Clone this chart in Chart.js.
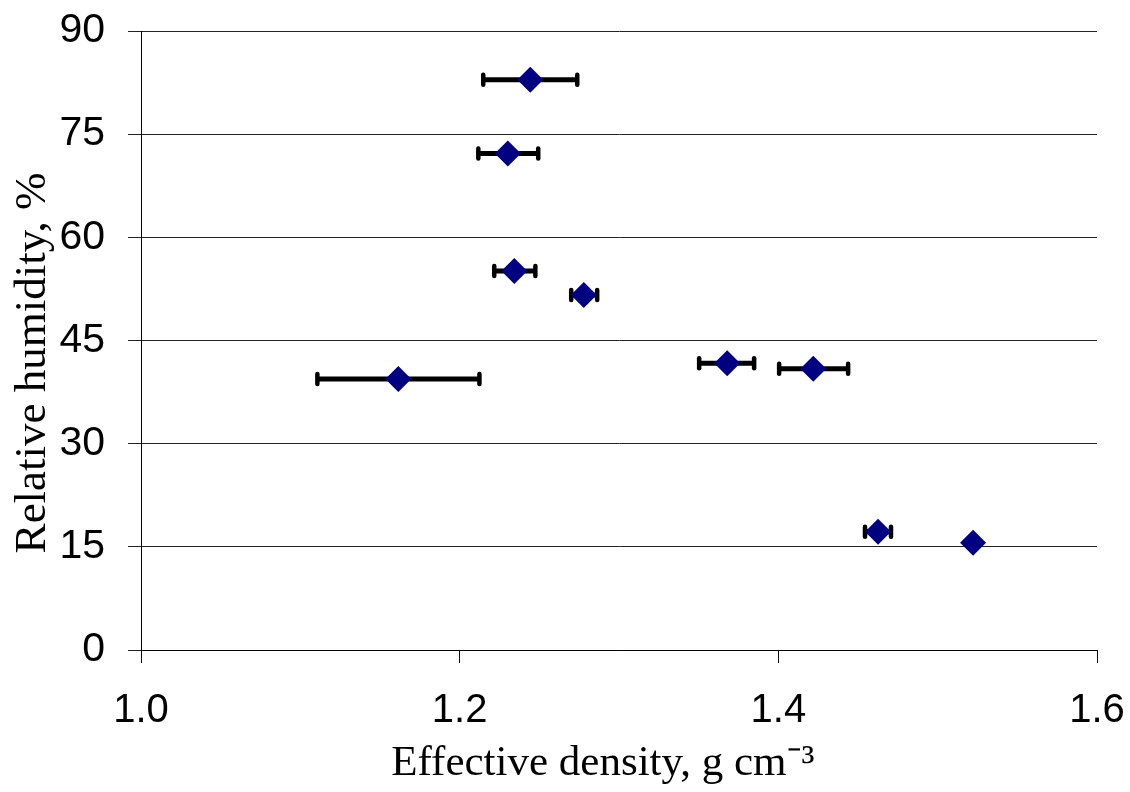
<!DOCTYPE html>
<html>
<head>
<meta charset="utf-8">
<script src="https://cdn.jsdelivr.net/npm/chart.js@4/dist/chart.umd.min.js"></script>
<style>
  html, body { margin: 0; padding: 0; background: #fff; }
  #wrap { width: 1130px; height: 792px; }
</style>
</head>
<body>
<div id="wrap"><canvas id="chart" width="1130" height="792"></canvas></div>
<script>
// Effective density (g cm-3) vs relative humidity (%)
const density = [1.2443, 1.2302, 1.2343, 1.2779, 1.1615, 1.3679, 1.4219, 1.4626, 1.5222];
const humidity = [82.9, 72.2, 55.1, 51.6, 39.4, 41.7, 40.9, 17.2, 15.6];
// horizontal error bar ends
const densityLow = [1.2148, 1.2117, 1.2217, 1.2700, 1.1107, 1.3503, 1.4005, 1.4544, 1.5222];
const densityHigh = [1.2738, 1.2493, 1.2475, 1.2863, 1.2124, 1.3848, 1.4438, 1.4707, 1.5222];

const xTicks = [1.0, 1.2, 1.4, 1.6];
const yTicks = [0, 15, 30, 45, 60, 75, 90];

const points = density.map((x, i) => ({ x: x, y: humidity[i] }));

// draws the x error bars under the markers
const errorBars = {
    id: 'errorBars',
    beforeDatasetsDraw(chart) {
        const ctx = chart.ctx;
        const xs = chart.scales.x;
        const ys = chart.scales.y;
        ctx.save();
        ctx.strokeStyle = '#000';
        for (let i = 0; i < density.length; i++) {
            if (densityHigh[i] - densityLow[i] <= 0) continue;
            const x0 = xs.getPixelForValue(densityLow[i]);
            const x1 = xs.getPixelForValue(densityHigh[i]);
            const y = ys.getPixelForValue(humidity[i]);
            ctx.lineWidth = 5;
            ctx.lineCap = 'butt';
            ctx.beginPath();
            ctx.moveTo(x0, y);
            ctx.lineTo(x1, y);
            ctx.stroke();
            ctx.lineCap = 'round';
            ctx.lineWidth = 4.5;
            [x0, x1].forEach(xp => {
                ctx.beginPath();
                ctx.moveTo(xp, y - 5);
                ctx.lineTo(xp, y + 5);
                ctx.stroke();
            });
        }
        ctx.restore();
    }
};

// let the layout padding alone place the plot area
function noLabelPadding(axis) {
    axis.paddingTop = 0;
    axis.paddingBottom = 0;
    axis.paddingLeft = 0;
    axis.paddingRight = 0;
}

new Chart(document.getElementById('chart'), {
    type: 'scatter',
    data: {
        datasets: [{
            data: points,
            pointStyle: 'rectRot',
            pointRadius: 13,
            pointHoverRadius: 13,
            backgroundColor: '#000080',
            borderColor: '#000080',
            borderWidth: 0
        }]
    },
    options: {
        responsive: false,
        animation: false,
        layout: { padding: { top: 31, right: 33, left: 0, bottom: 0 } },
        plugins: {
            legend: { display: false },
            tooltip: { enabled: false }
        },
        scales: {
            x: {
                type: 'linear',
                min: 1.0,
                max: 1.6,
                afterBuildTicks: axis => { axis.ticks = xTicks.map(v => ({ value: v })); },
                afterFit: axis => { axis.height = 142; noLabelPadding(axis); },
                ticks: {
                    color: '#000',
                    padding: 24,
                    maxRotation: 0,
                    font: { family: "'Liberation Sans', Arial, sans-serif", size: 40 },
                    callback: v => v.toFixed(1)
                },
                grid: {
                    drawOnChartArea: false,
                    drawTicks: true,
                    tickLength: 13,
                    color: '#000',
                    lineWidth: 1
                },
                border: { display: true, color: '#000', width: 1 },
                title: {
                    display: true,
                    // trailing spaces nudge the centred title to the left like the original
                    text: 'Effective density, g cm\u207B\u00B3   ',
                    color: '#000',
                    font: { family: "'Liberation Serif', 'Times New Roman', serif", size: 43 },
                    padding: { top: 0, bottom: 2 }
                }
            },
            y: {
                type: 'linear',
                min: 0,
                max: 90,
                afterBuildTicks: axis => { axis.ticks = yTicks.map(v => ({ value: v })); },
                afterFit: axis => { axis.width = 141; noLabelPadding(axis); },
                ticks: {
                    color: '#000',
                    padding: 23,
                    font: { family: "'Liberation Sans', Arial, sans-serif", size: 41 }
                },
                grid: {
                    drawOnChartArea: true,
                    drawTicks: true,
                    tickLength: 13,
                    color: '#222',
                    lineWidth: 1
                },
                border: { display: true, color: '#000', width: 1 },
                title: {
                    display: true,
                    text: 'Relative humidity, %    ',
                    color: '#000',
                    font: { family: "'Liberation Serif', 'Times New Roman', serif", size: 45 },
                    padding: { top: 6, bottom: 0 }
                }
            }
        }
    },
    plugins: [errorBars]
});
</script>
</body>
</html>
